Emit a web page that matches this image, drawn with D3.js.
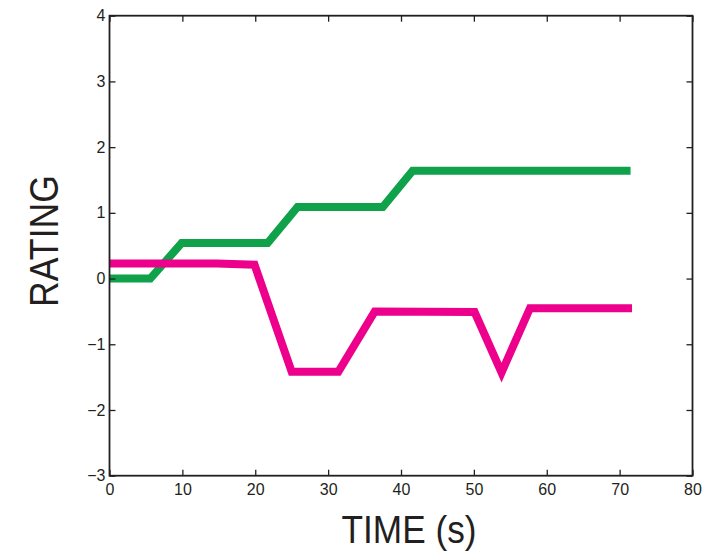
<!DOCTYPE html>
<html lang="en">
<head>
<meta charset="utf-8" />
<title>rating</title>
<script src="https://d3js.org/d3.v7.min.js"></script>
<style>
  body { margin: 0; background: #fff; }
  text { font-family: "Liberation Sans", Arial, sans-serif; fill: #231f20; }
</style>
</head>
<body>
<div id="chart"></div>
<script>
// data
var greenTime   = [0, 5.6, 9.9, 21.7, 25.8, 37.5, 41.6, 71.5];
var greenRating = [0, 0, 0.54, 0.54, 1.09, 1.09, 1.64, 1.64];

var pinkTime   = [0, 14.7, 19.9, 25.0, 31.4, 36.4, 50.1, 53.8, 57.7, 71.7];
var pinkRating = [0.23, 0.23, 0.21, -1.42, -1.42, -0.50, -0.51, -1.43, -0.45, -0.45];

var xTicks = [0, 10, 20, 30, 40, 50, 60, 70, 80];
var yTicks = [-3, -2, -1, 0, 1, 2, 3, 4];

var width = 713, height = 552;
// plot box edges (window.top is taken, so use other names)
var boxL = 109.5, boxR = 692.5, boxT = 15.7, boxB = 475.7;

var svg = d3.select("#chart").append("svg")
    .attr("width", width)
    .attr("height", height);

var xScale = d3.scaleLinear().domain([0, 80]).range([boxL, boxR]);
var yScale = d3.scaleLinear().domain([-3, 4]).range([boxB, boxT]);

// lines
var line = d3.line()
    .x(function(d){ return xScale(d[0]); })
    .y(function(d){ return yScale(d[1]); });

function draw(ts, vs, colour){
  var pts = ts.map(function(t, i){ return [t, vs[i]]; });
  svg.append("path")
      .attr("d", line(pts))
      .attr("fill", "none")
      .attr("stroke", colour)
      .attr("stroke-width", 8)
      .attr("stroke-linejoin", "miter");
}
draw(greenTime, greenRating, "#10a24a");
draw(pinkTime, pinkRating, "#ec008c");

// axes, ticks pointing inward, box all round
var tickLen = 6;
var xBottom = d3.axisBottom(xScale).tickValues(xTicks).tickSize(-tickLen).tickPadding(8)
    .tickFormat(d3.format("d"));
var xTop = d3.axisTop(xScale).tickValues(xTicks).tickSize(-tickLen).tickFormat("");
var yLeft = d3.axisLeft(yScale).tickValues(yTicks).tickSize(-tickLen).tickPadding(4)
    .tickFormat(function(d){ return d < 0 ? "\u2212" + Math.abs(d) : d; });
var yRight = d3.axisRight(yScale).tickValues(yTicks).tickSize(-tickLen).tickFormat("");

function style(g){
  g.attr("font-size", null).attr("font-family", null);
  g.selectAll("path, line").attr("stroke", "#231f20").attr("stroke-width", 1.3);
  g.select(".domain").remove();
  g.selectAll("text").style("font-size", "16px").attr("fill", "#231f20");
}

svg.append("g").attr("transform", "translate(0," + boxB + ")").call(xBottom).call(style);
svg.append("g").attr("transform", "translate(0," + boxT + ")").call(xTop).call(style);
svg.append("g").attr("transform", "translate(" + boxL + ",0)").call(yLeft).call(style);
svg.append("g").attr("transform", "translate(" + boxR + ",0)").call(yRight).call(style);

// frame
svg.append("rect")
    .attr("x", boxL).attr("y", boxT)
    .attr("width", boxR - boxL).attr("height", boxB - boxT)
    .attr("fill", "none")
    .attr("stroke", "#231f20")
    .attr("stroke-width", 1.8);

// axis titles
svg.append("text")
    .attr("x", 409).attr("y", 543)
    .attr("text-anchor", "middle")
    .style("font-size", "38px")
    .attr("textLength", 135)
    .attr("lengthAdjust", "spacingAndGlyphs")
    .text("TIME (s)");

svg.append("text")
    .attr("transform", "translate(58,241) rotate(-90)")
    .attr("text-anchor", "middle")
    .style("font-size", "40px")
    .attr("textLength", 132)
    .attr("lengthAdjust", "spacingAndGlyphs")
    .text("RATING");
</script>
</body>
</html>
